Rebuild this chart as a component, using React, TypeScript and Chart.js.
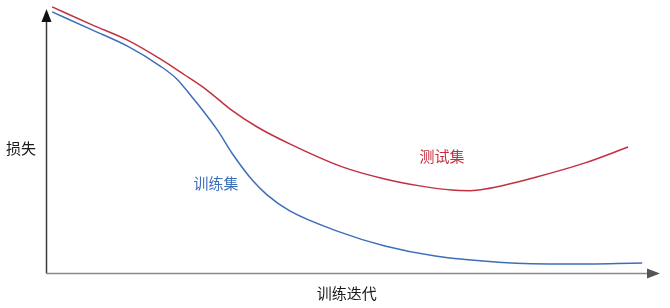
import React, { useEffect, useRef } from "react";
import { Chart, registerables } from "chart.js";

Chart.register(...registerables);

// Iterations (x, 0..100) and loss (y, 0..100)
const testX = [1.0, 7.6, 13.2, 18.6, 22.6, 26.2, 30.0, 34.4, 39.7, 47.9, 55.2, 60.9, 66.1, 69.1, 71.5, 79.6, 87.8, 94.8];
const testY = [100.8, 93.9, 88.3, 81.1, 75.0, 69.3, 62.1, 55.3, 48.9, 40.5, 35.6, 33.0, 31.4, 31.2, 31.8, 36.2, 41.7, 47.7];

const trainX = [1.0, 7.6, 13.2, 18.6, 21.3, 23.9, 25.1, 27.9, 30.5, 33.7, 36.0, 39.7, 47.9, 55.2, 63.4, 74.3, 85.0, 97.1];
const trainY = [98.9, 92.0, 86.0, 78.4, 73.5, 66.3, 62.9, 54.2, 44.7, 34.9, 29.6, 23.5, 15.5, 10.2, 6.4, 4.0, 3.4, 3.8];

const seriesNames = ["测试集", "训练集"];
const seriesColors = ["#c3303f", "#3d6fb9"];
// label anchors in data coordinates
const labelX = [64.5, 27.7];
const labelY = [44.3, 34.1];

const xAxisTitle = "训练迭代";
const yAxisTitle = "损失";

const FONT = '"Noto Sans CJK SC", "Noto Sans", sans-serif';

const axesPlugin = {
  id: "arrowAxes",
  afterDatasetsDraw(chart: any) {
    const { ctx, chartArea } = chart;
    const { left, right, top, bottom } = chartArea;
    const x0 = left + 0.5;
    const y0 = bottom + 0.5;
    ctx.save();
    // y axis
    ctx.strokeStyle = "#3a3a3a";
    ctx.lineWidth = 1.5;
    ctx.beginPath();
    ctx.moveTo(x0, y0);
    ctx.lineTo(x0, top + 12);
    ctx.stroke();
    ctx.fillStyle = "#111";
    ctx.beginPath();
    ctx.moveTo(x0, top);
    ctx.lineTo(x0 - 5, top + 13);
    ctx.lineTo(x0 + 5, top + 13);
    ctx.closePath();
    ctx.fill();
    // x axis
    ctx.strokeStyle = "#8a8a8a";
    ctx.lineWidth = 1.5;
    ctx.beginPath();
    ctx.moveTo(x0, y0);
    ctx.lineTo(right - 12, y0);
    ctx.stroke();
    ctx.fillStyle = "#555";
    ctx.beginPath();
    ctx.moveTo(right, y0);
    ctx.lineTo(right - 13, y0 - 5);
    ctx.lineTo(right - 13, y0 + 5);
    ctx.closePath();
    ctx.fill();

    // titles
    ctx.textAlign = "center";
    ctx.textBaseline = "middle";
    ctx.fillStyle = "#1a1a1a";
    ctx.font = `15px ${FONT}`;
    const xs = chart.scales.x;
    const ys = chart.scales.y;
    ctx.fillText(xAxisTitle, xs.getPixelForValue(49), bottom + 20);
    ctx.fillText(yAxisTitle, left - 25, ys.getPixelForValue(47.3));

    // series labels
    seriesNames.forEach((name, i) => {
      ctx.fillStyle = seriesColors[i];
      ctx.fillText(name, xs.getPixelForValue(labelX[i]), ys.getPixelForValue(labelY[i]));
    });
    ctx.restore();
  },
};

export default function App() {
  const ref = useRef<HTMLCanvasElement>(null);
  useEffect(() => {
    if (!ref.current) return;
    const chart = new Chart(ref.current, {
      type: "line",
      data: {
        datasets: [
          {
            label: seriesNames[0],
            data: testX.map((x, i) => ({ x, y: testY[i] })),
            borderColor: seriesColors[0],
            borderWidth: 1.5,
            pointRadius: 0,
            cubicInterpolationMode: "monotone",
            clip: false as any,
          },
          {
            label: seriesNames[1],
            data: trainX.map((x, i) => ({ x, y: trainY[i] })),
            borderColor: seriesColors[1],
            borderWidth: 1.5,
            pointRadius: 0,
            cubicInterpolationMode: "monotone",
            clip: false as any,
          },
        ],
      },
      options: {
        animation: false,
        responsive: false,
        events: [],
        layout: { padding: { left: 46, right: 10, top: 9, bottom: 35 } },
        plugins: { legend: { display: false }, tooltip: { enabled: false } },
        scales: {
          x: { type: "linear", min: 0, max: 100, display: false },
          y: { type: "linear", min: 0, max: 100, display: false },
        },
      },
      plugins: [axesPlugin],
    });
    return () => chart.destroy();
  }, []);
  return (
    <div style={{ position: "absolute", left: 0, top: 0, width: 670, height: 308, background: "#fff" }}>
      <canvas ref={ref} width={670} height={308} style={{ display: "block" }} />
    </div>
  );
}
